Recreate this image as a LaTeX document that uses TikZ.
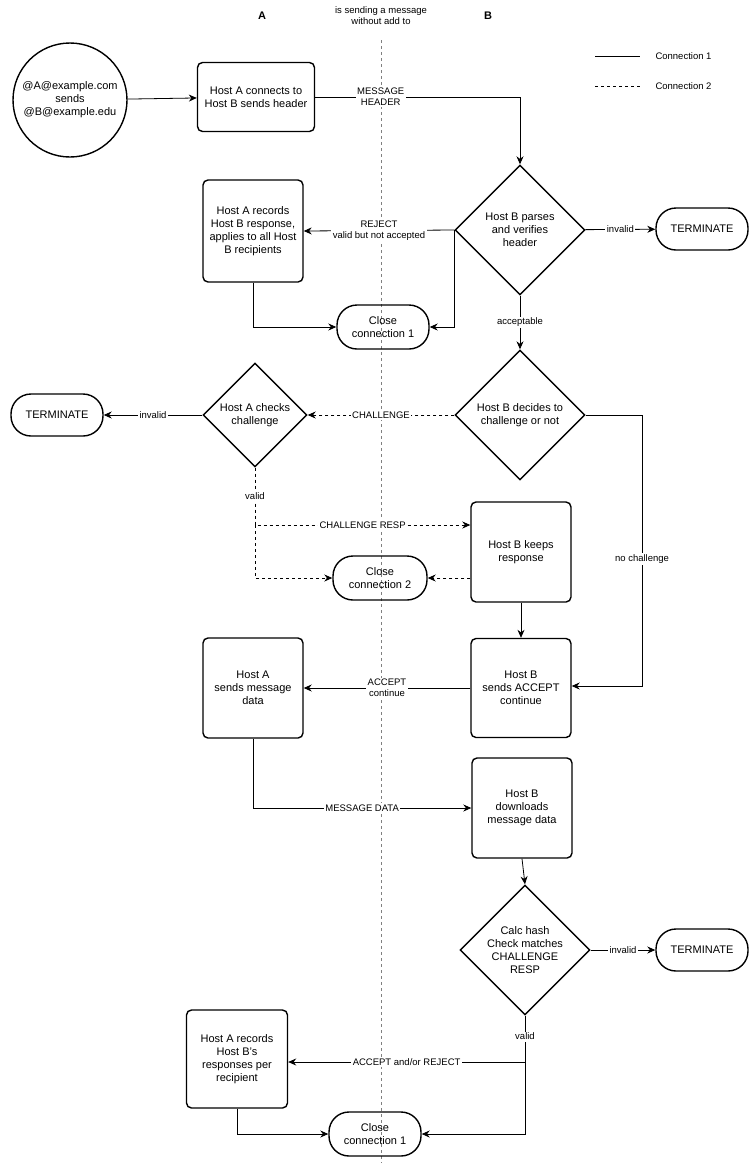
\documentclass[tikz,border=0pt]{standalone}
\usepackage{fontspec}
\setmainfont{Liberation Sans}
\usetikzlibrary{shapes.geometric,arrows.meta,positioning}
\tikzset{
  box/.style={draw, line width=1.4pt, rounded corners=5pt, align=center, inner sep=2pt, font=\fontsize{11}{13}\selectfont},
  dec/.style={draw, diamond, line width=1.4pt, align=center, inner sep=0pt, font=\fontsize{11}{13}\selectfont},
  pill/.style={draw, line width=1.4pt, rounded corners=20pt, align=center, minimum width=92pt, minimum height=42pt, font=\fontsize{11}{13}\selectfont},
  line/.style={draw, line width=0.8pt, -{Stealth[length=8pt,width=7pt]}},
  linedash/.style={line, dashed},
  lbl/.style={fill=white, align=center, inner sep=1.5pt, font=\fontsize{9.5}{11}\selectfont},
}
\begin{document}
\begin{tikzpicture}[x=1pt, y=-1pt]
\useasboundingbox (0,0) rectangle (749,1163);
% headers
\node[font=\bfseries\fontsize{11}{13}\selectfont] (hA) at (262,16) {A};
\node[font=\bfseries\fontsize{11}{13}\selectfont] (hB) at (488,16) {B};
\node[align=center, font=\fontsize{9.5}{11}\selectfont] (title) at (381,16) {is sending a message\\without add to};
\draw[gray, dashed, line width=0.8pt] (381,40) -- (381,1163);
% legend
\coordinate (l1a) at (595,56); \coordinate (l1b) at (640,56);
\coordinate (l2a) at (595,86); \coordinate (l2b) at (640,86);
\draw[line width=0.8pt] (l1a) -- (l1b);
\draw[line width=0.8pt, dashed] (l2a) -- (l2b);
\node[anchor=west, font=\fontsize{9.5}{11}\selectfont] (leg1) at (652,56) {Connection 1};
\node[anchor=west, font=\fontsize{9.5}{11}\selectfont] (leg2) at (652,86) {Connection 2};
% nodes
\node[draw, circle, line width=1.4pt, minimum size=114pt, align=center, inner sep=0pt, font=\fontsize{11}{13}\selectfont] (start) at (70,100) {@A@example.com\\sends\\@B@example.edu};
\node[box, minimum width=117pt, minimum height=69pt] (conn) at (256,97) {Host A connects to\\Host B sends header};
\node[dec, minimum width=130pt, minimum height=130pt] (parse) at (520,230) {Host B parses\\and verifies\\header};
\node[pill] (term1) at (702,229) {TERMINATE};
\node[box, minimum width=100pt, minimum height=102pt] (rec1) at (253,231) {Host A records\\Host B response,\\applies to all Host\\B recipients};
\node[pill, minimum height=44pt] (close1) at (383,327) {Close\\connection 1};
\node[dec, minimum width=130pt, minimum height=130pt] (decide) at (520,415) {Host B decides to\\challenge or not};
\node[dec, minimum width=104pt, minimum height=104pt] (check) at (255,415) {Host A checks\\challenge};
\node[pill] (term2) at (57,415) {TERMINATE};
\node[box, minimum width=100pt, minimum height=100pt] (keep) at (521,552) {Host B keeps\\response};
\node[pill, minimum width=94pt, minimum height=44pt] (close2) at (380,578) {Close\\connection 2};
\node[box, minimum width=100pt, minimum height=99pt] (acc) at (521,688) {Host B\\sends ACCEPT\\continue};
\node[box, minimum width=100pt, minimum height=100pt] (send) at (253,688) {Host A\\sends message\\data};
\node[box, minimum width=100pt, minimum height=100pt] (down) at (522,808) {Host B\\downloads\\message data};
\node[dec, minimum width=130pt, minimum height=130pt] (hash) at (525,950) {Calc hash\\Check matches\\CHALLENGE\\RESP};
\node[pill] (term3) at (702,950) {TERMINATE};
\node[box, minimum width=101pt, minimum height=98pt] (rec2) at (237,1059) {Host A records\\Host B's\\responses per\\recipient};
\node[pill, minimum height=44pt] (close3) at (375,1134) {Close\\connection 1};
% connectors
\path[line] (start) -- (conn);
\path[line] (conn.east) -- (520,97) node[lbl, pos=0.32] {MESSAGE\\HEADER} -- (parse.north);
\path[line] (parse) -- (term1) node[lbl, midway] {invalid};
\path[line] (parse.west) -- (rec1.east) node[lbl, midway] {REJECT\\valid but not accepted};
\path[line] (rec1.south) |- (close1.west);
\path[line] (parse.west) |- (close1.east);
\path[line] (parse.south) -- (decide.north) node[lbl, midway] {acceptable};
\path[linedash] (decide.west) -- (check.east) node[lbl, midway] {CHALLENGE};
\path[line] (check.west) -- (term2.east) node[lbl, midway] {invalid};
\coordinate (cv) at (255,525);
\path[linedash] (check.south) -- (cv) node[lbl, midway] {valid} -- (keep.west |- cv) node[lbl, midway] {CHALLENGE RESP};
\path[linedash] (cv) |- (close2.west);
\path[linedash] (keep.west |- close2) -- (close2.east);
\path[line] (keep.south) -- (acc.north);
\path[line] (decide.east) -- (642,415) -- (642,686) node[lbl, pos=0.53] {no challenge} -- (acc.east |- 0,686);
\path[line] (acc.west) -- (send.east) node[lbl, midway] {ACCEPT\\continue};
\path[line] (send.south) |- (down.west) node[lbl, pos=0.75] {MESSAGE DATA};
\path[line] (down.south) -- (hash.north);
\path[line] (hash) -- (term3) node[lbl, midway] {invalid};
\coordinate (hv) at (525,1062);
\path[draw, line width=0.8pt] (hash.south) -- (hv) node[lbl, pos=0.45] {valid};
\path[line] (hv) -- (rec2.east |- hv) node[lbl, midway] {ACCEPT and/or REJECT};
\path[line] (hv) |- (close3.east);
\path[line] (rec2.south) |- (close3.west);
\end{tikzpicture}
\end{document}
